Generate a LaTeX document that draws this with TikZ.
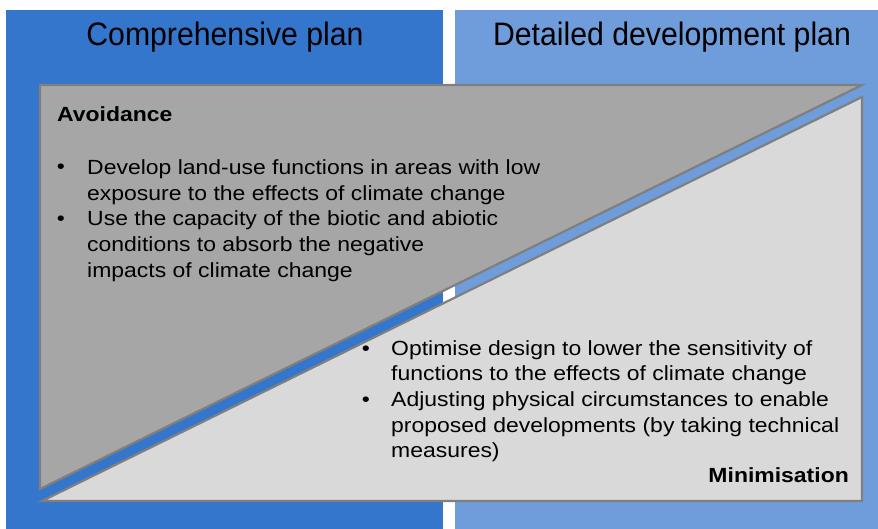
\documentclass[tikz,border=0pt]{standalone}
\usepackage{fontspec}
\setmainfont{Liberation Sans}
\newfontfamily\titlefont[FakeStretch=0.93]{Liberation Sans}
\newfontfamily\bodyfont[FakeStretch=1.12]{Liberation Sans}

\definecolor{compblue}{HTML}{3476CC}
\definecolor{detailblue}{HTML}{6F9DDB}
\definecolor{avoidgray}{HTML}{A6A6A6}
\definecolor{minigray}{HTML}{D9D9D9}
\definecolor{edgegray}{HTML}{7F7F7F}

\tikzset{
  plantitle/.style={font=\titlefont\fontsize{32.5}{36}\selectfont, anchor=base, inner sep=0pt},
  heading/.style={font=\bodyfont\bfseries\fontsize{20.5}{26}\selectfont, anchor=base west, inner sep=0pt},
  itemtext/.style={font=\bodyfont\fontsize{20.5}{25.7}\selectfont, align=left, anchor=north west, inner sep=0pt},
  dot/.style={font=\bodyfont\fontsize{20.5}{26}\selectfont, anchor=base, inner sep=0pt},
  wedge/.style={draw=edgegray, line width=2.2pt, line join=miter}
}

\begin{document}
\begin{tikzpicture}[x=1pt,y=-1pt]
\useasboundingbox (0,0) rectangle (878,529);

% the two planning levels
\fill[compblue] (6,10) rectangle (443,529);
\fill[detailblue] (455,10) rectangle (878,529);
\node[plantitle] (comp) at (225,46) {Comprehensive plan};
\node[plantitle] (detail) at (672,46) {Detailed development plan};

% avoidance and minimisation
\path[wedge,fill=avoidgray] (40,85) -- (862,85) -- (40,489) -- cycle;
\path[wedge,fill=minigray] (862,97) -- (862,501) -- (42,501) -- cycle;

\node[heading] (avoid) at (57,122) {Avoidance};
\node[dot] (a1) at (61,174) {•};
\node[dot] (a2) at (61,225.4) {•};
\node[itemtext] (avoidtext) at (87,159.3) {Develop land-use functions in areas with low\\
exposure to the effects of climate change\\
Use the capacity of the biotic and abiotic\\
conditions to absorb the negative\\
impacts of climate change};

\node[dot] (m1) at (366,355) {•};
\node[dot] (m2) at (366,406.4) {•};
\node[itemtext] (minitext) at (391,340) {Optimise design to lower the sensitivity of\\
functions to the effects of climate change\\
Adjusting physical circumstances to enable\\
proposed developments (by taking technical\\
measures)};
\node[heading, anchor=base east] (mini) at (849,482) {Minimisation};
\end{tikzpicture}
\end{document}
